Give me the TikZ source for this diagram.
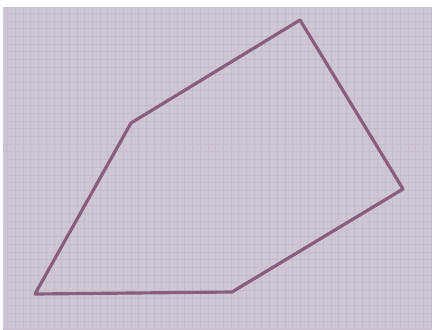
\documentclass[tikz,border=0pt]{standalone}
\usepackage{xcolor}
\usepackage{tikz}

\definecolor{paper}{RGB}{207,198,213}
\definecolor{gridline}{RGB}{198,188,206}
\definecolor{pen}{RGB}{136,94,126}

\begin{document}
\begin{tikzpicture}[x=0.03cm, y=-0.03cm,
  gridrule/.style={draw=gridline, line width=0.3pt},
  penline/.style={draw=pen, line width=0.95mm, line join=round, line cap=round}]
  % frame and paper
  \useasboundingbox (0,0) rectangle (432,329);
  \fill[white] (0,0) rectangle (432,329);
  \fill[paper] (3,7) rectangle (432,329);

  % squared paper
  \foreach \i in {0,...,55} {
    \draw[gridrule] (7.5+7.7*\i,7) -- (7.5+7.7*\i,329);
  }
  \foreach \j in {0,...,41} {
    \draw[gridrule] (3,13+7.7*\j) -- (432,13+7.7*\j);
  }

  % corners of the figure
  \coordinate (p1) at (131,123);
  \coordinate (p2) at (300,20);
  \coordinate (p3) at (403,189);
  \coordinate (p4) at (232,292);
  \coordinate (p5) at (35,294);

  % the figure
  \draw[penline] (p1) -- (p2) -- (p3) -- (p4) -- (p5) -- cycle;
\end{tikzpicture}
\end{document}
